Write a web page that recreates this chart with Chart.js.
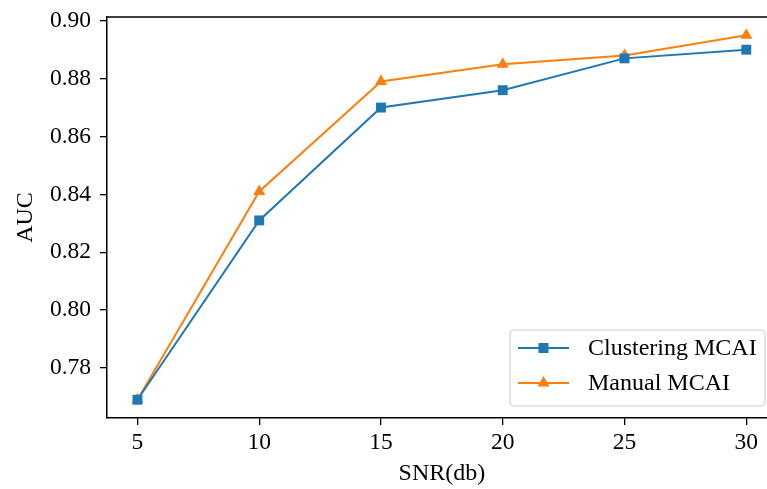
<!DOCTYPE html>
<html>
<head>
<meta charset="utf-8">
<script src="https://cdn.jsdelivr.net/npm/chart.js@4"></script>
<style>
  html, body { margin: 0; padding: 0; background: #fff; }
  #wrap { width: 767px; height: 489px; }
</style>
</head>
<body>
<div id="wrap"><canvas id="c" width="767" height="489"></canvas></div>
<script>
const snr = [5, 10, 15, 20, 25, 30];
const clusteringAuc = [0.769, 0.831, 0.870, 0.876, 0.887, 0.890];
const manualAuc = [0.769, 0.841, 0.879, 0.885, 0.888, 0.895];
const xTicks = [5, 10, 15, 20, 25, 30];
const yTicks = [0.78, 0.80, 0.82, 0.84, 0.86, 0.88, 0.90];
const xTitle = 'SNR(db)';

const BLUE = '#1f77b4';
const ORANGE = '#ff7f0e';
const FONT = '"Liberation Serif", "Times New Roman", serif';
const X_MIN = 3.75, X_MAX = 31.25; // full axis range; the original is cropped at 30.8

const toPoints = (ys) => snr.map((x, i) => ({ x, y: ys[i] }));

// top spine, x title (centred on the uncropped axis) and legend box
const framePlugin = {
  id: 'frame',
  afterDraw(chart) {
    const { ctx, chartArea: a, scales } = chart;
    ctx.save();
    ctx.strokeStyle = '#000';
    ctx.lineWidth = 1.5;
    ctx.beginPath();
    ctx.moveTo(a.left, a.top);
    ctx.lineTo(a.right, a.top);
    ctx.stroke();

    ctx.fillStyle = '#000';
    ctx.font = '24px ' + FONT;
    ctx.textAlign = 'center';
    ctx.textBaseline = 'middle';
    ctx.fillText(xTitle, scales.x.getPixelForValue((X_MIN + X_MAX) / 2), 474);

    const bx = 510, by = a.bottom - 88, bw = 255, bh = 76;
    ctx.fillStyle = 'rgba(255,255,255,0.8)';
    ctx.strokeStyle = '#d0d0d0';
    ctx.lineWidth = 1.2;
    ctx.beginPath();
    ctx.roundRect(bx, by, bw, bh, 4);
    ctx.fill();
    ctx.stroke();

    const rows = [
      { label: 'Clustering MCAI', color: BLUE, shape: 'rect' },
      { label: 'Manual MCAI', color: ORANGE, shape: 'tri' },
    ];
    ctx.textAlign = 'left';
    rows.forEach((r, i) => {
      const y = by + 18 + i * 35;
      const x0 = bx + 8, x1 = bx + 59, xm = (x0 + x1) / 2;
      ctx.strokeStyle = r.color;
      ctx.fillStyle = r.color;
      ctx.lineWidth = 2;
      ctx.beginPath();
      ctx.moveTo(x0, y);
      ctx.lineTo(x1, y);
      ctx.stroke();
      ctx.beginPath();
      if (r.shape === 'rect') {
        ctx.rect(xm - 5, y - 5, 10, 10);
      } else {
        ctx.moveTo(xm, y - 7);
        ctx.lineTo(xm + 6, y + 3.5);
        ctx.lineTo(xm - 6, y + 3.5);
        ctx.closePath();
      }
      ctx.fill();
      ctx.fillStyle = '#000';
      ctx.fillText(r.label, bx + 78, y + 1);
    });
    ctx.restore();
  },
};

new Chart(document.getElementById('c'), {
  type: 'line',
  data: {
    datasets: [
      {
        label: 'Clustering MCAI',
        data: toPoints(clusteringAuc),
        borderColor: BLUE,
        backgroundColor: BLUE,
        borderWidth: 2,
        pointStyle: 'rect',
        pointRadius: 7,
        pointBorderWidth: 0,
        tension: 0,
      },
      {
        label: 'Manual MCAI',
        data: toPoints(manualAuc),
        borderColor: ORANGE,
        backgroundColor: ORANGE,
        borderWidth: 2,
        pointStyle: 'triangle',
        pointRadius: 7,
        pointBorderWidth: 0,
        tension: 0,
      },
    ],
  },
  options: {
    responsive: false,
    animation: false,
    layout: { autoPadding: false, padding: { top: 17, right: 0, left: 0, bottom: 0 } },
    plugins: {
      legend: { display: false },
      tooltip: { enabled: false },
    },
    scales: {
      x: {
        type: 'linear',
        min: X_MIN,
        max: 30.85,
        afterBuildTicks: (s) => { s.ticks = xTicks.map((v) => ({ value: v })); },
        afterFit: (s) => { s.height = 71; s.paddingLeft = 0; s.paddingRight = 0; },
        border: { color: '#000', width: 1.5 },
        grid: { drawOnChartArea: false, drawTicks: true, tickLength: 7, color: '#000', lineWidth: 1.3 },
        ticks: { color: '#000', font: { family: FONT, size: 23.5, lineHeight: 1 }, padding: 6, maxRotation: 0 },
      },
      y: {
        min: 0.7627,
        max: 0.9013,
        afterBuildTicks: (s) => { s.ticks = yTicks.map((v) => ({ value: v })); },
        afterFit: (s) => { s.width = 107; s.paddingTop = 0; s.paddingBottom = 0; },
        border: { color: '#000', width: 1.5 },
        grid: { drawOnChartArea: false, drawTicks: true, tickLength: 7, color: '#000', lineWidth: 1.3 },
        ticks: {
          color: '#000',
          font: { family: FONT, size: 23.5 },
          padding: 9,
          callback: (v) => v.toFixed(2),
        },
        title: { display: true, text: 'AUC', color: '#000', font: { family: FONT, size: 24, lineHeight: 1 }, padding: { top: 14, bottom: 0 } },
      },
    },
  },
  plugins: [framePlugin],
});
</script>
</body>
</html>
